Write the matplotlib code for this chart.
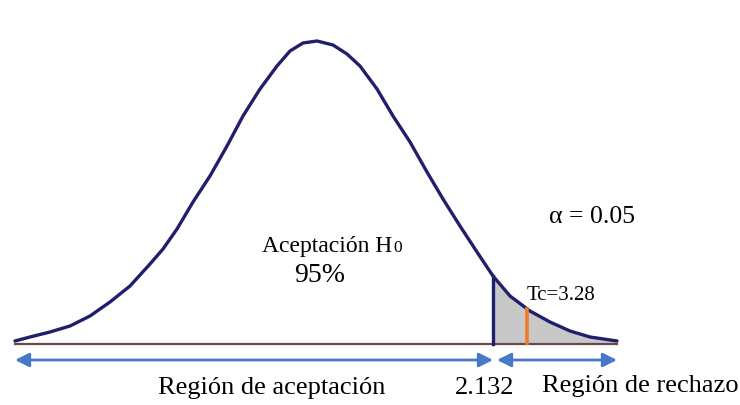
import matplotlib.pyplot as plt

# curve (pixel x, pixel y from top)
curve_x = [15, 30, 50, 70, 90, 110, 130, 150, 163, 177, 193, 210, 227, 243, 260, 277,
           290, 303, 317, 333, 347, 360, 377, 393, 410, 427, 443, 460, 477, 493,
           510, 530, 550, 570, 590, 617]
curve_y = [342, 338, 333, 327, 317, 303, 287, 265, 250, 230, 203, 177, 147, 117, 90, 67,
           52, 44, 42, 46, 55, 67, 90, 117, 143, 173, 200, 227, 253, 277,
           297, 312, 323, 332, 338, 342]

base_y = 345
crit_x = 493      # 2.132
tc_x = 527        # Tc = 3.28
tc_top = 310

labels = ["Región de aceptación", "2.132", "Región de rechazo"]

navy = "#1f1f6b"
blue = "#4a78c8"

fig = plt.figure(figsize=(7.4, 4.06), dpi=100)
ax = fig.add_axes([0, 0, 1, 1])
ax.set_xlim(0, 740)
ax.set_ylim(406, 0)
ax.axis("off")

# shaded rejection tail
tail = [i for i, x in enumerate(curve_x) if x >= crit_x]
ax.fill_between([curve_x[i] for i in tail], [curve_y[i] for i in tail], base_y,
                color="#c8c8c8", lw=0)

ax.plot([curve_x[0], curve_x[-1]], [base_y, base_y], color="#6b4848", lw=1.6)
ax.plot(curve_x, curve_y, color=navy, lw=2.4, solid_capstyle="round",
        solid_joinstyle="round")
ax.plot([crit_x, crit_x], [curve_y[curve_x.index(crit_x)], base_y], color=navy, lw=2.4)
ax.plot([tc_x, tc_x], [tc_top, base_y - 1], color="#f07a2a", lw=2.6)

# arrows under the axis
arr = dict(arrowstyle="<|-|>", color=blue, lw=2, mutation_scale=21, shrinkA=0, shrinkB=0)
ax.annotate("", xy=(15, 361), xytext=(crit_x, 361), arrowprops=arr)
ax.annotate("", xy=(crit_x + 4, 361), xytext=(617, 361), arrowprops=arr)

font = dict(family="Liberation Serif", color="black")
ax.text(272, 388, labels[0], ha="center", va="center", fontsize=19, **font)
ax.text(485, 388, labels[1], ha="center", va="center", fontsize=19, **font)
ax.text(640, 386, labels[2], ha="center", va="center", fontsize=19, **font)

ax.text(592, 217, "α = 0.05", ha="center", va="center", fontsize=18.5, **font)
t = ax.text(262, 252, "Aceptación H", ha="left", va="baseline", fontsize=17, **font)
fig.canvas.draw()
bb = t.get_window_extent().transformed(ax.transData.inverted())
ax.text(bb.x1 + 1, 252, "0", ha="left", va="baseline", fontsize=12.5, **font)
ax.text(320, 276, "95%", ha="center", va="center", fontsize=20, **font)
ax.text(527, 296, "Tc=3.28", ha="left", va="center", fontsize=15, **font)

fig.savefig("out.png", dpi=100, facecolor="white")
